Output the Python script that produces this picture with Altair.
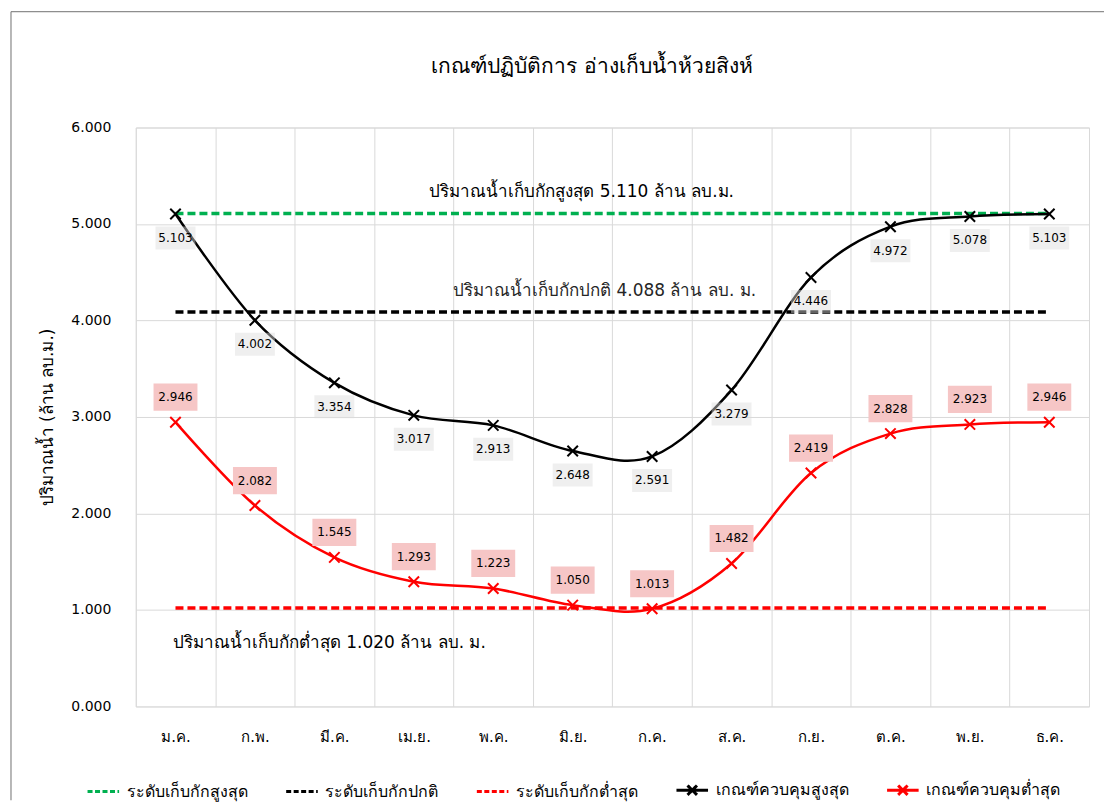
import altair as alt
import pandas as pd

months = ["ม.ค.", "ก.พ.", "มี.ค.", "เม.ย.", "พ.ค.", "มิ.ย.", "ก.ค.", "ส.ค.", "ก.ย.", "ต.ค.", "พ.ย.", "ธ.ค."]
upper_curve = [5.103, 4.002, 3.354, 3.017, 2.913, 2.648, 2.591, 3.279, 4.446, 4.972, 5.078, 5.103]
lower_curve = [2.946, 2.082, 1.545, 1.293, 1.223, 1.050, 1.013, 1.482, 2.419, 2.828, 2.923, 2.946]
level_names = ["ระดับเก็บกักสูงสุด", "ระดับเก็บกักปกติ", "ระดับเก็บกักต่ำสุด"]
level_values = [5.110, 4.088, 1.020]
level_colors = ["#00b050", "#000000", "#ff0000"]
curve_names = ["เกณฑ์ควบคุมสูงสุด", "เกณฑ์ควบคุมต่ำสุด"]
curve_colors = ["#000000", "#ff0000"]
y_ticks = [0, 1, 2, 3, 4, 5, 6]
chart_title = "เกณฑ์ปฏิบัติการ อ่างเก็บน้ำห้วยสิงห์"
note_texts = ["ปริมาณน้ำเก็บกักสูงสุด 5.110 ล้าน ลบ.ม.",
              "ปริมาณน้ำเก็บกักปกติ 4.088 ล้าน ลบ. ม.",
              "ปริมาณน้ำเก็บกักต่ำสุด 1.020 ล้าน ลบ. ม."]
note_months = ["มิ.ย.", "มิ.ย.", "มี.ค."]

FONT = "Tahoma, 'DejaVu Sans', 'Noto Sans', sans-serif"
W, H = 955, 580

xenc = alt.X("month:N", sort=months,
             scale=alt.Scale(type="band", domain=months, paddingInner=0, paddingOuter=0),
             axis=alt.Axis(title=None, labelAngle=0, labelFontSize=15, labelPadding=23,
                           tickBand="extent", grid=True, gridColor="#d9d9d9",
                           ticks=False, domain=False, labelColor="#000000", labelFont=FONT))
yenc_axis = alt.Axis(title="ปริมาณน้ำ (ล้าน ลบ.ม.)", titleFontSize=17, titleFontWeight="normal",
                     titleColor="#000000", titleFont=FONT, titlePadding=14,
                     labelFontSize=14, labelColor="#000000", labelFont=FONT, labelPadding=25,
                     format=".3f", values=y_ticks, grid=True, gridColor="#d9d9d9",
                     ticks=False, domain=False)
yscale = alt.Scale(domain=[0, 6], nice=False, zero=True)


def yenc(field="value"):
    return alt.Y(f"{field}:Q", scale=yscale, axis=yenc_axis)


layers = []

# reference levels (dashed)
for name, val, col in zip(level_names, level_values, level_colors):
    df = pd.DataFrame({"month": months, "value": [val] * len(months)})
    layers.append(alt.Chart(df).mark_line(color=col, strokeWidth=3.5, strokeDash=[8, 4])
                  .encode(x=xenc, y=yenc()))

# curves
curve_dfs = []
for name, vals, col in zip(curve_names, [upper_curve, lower_curve], curve_colors):
    df = pd.DataFrame({"month": months, "value": vals,
                       "label": [f"{v:.3f}" for v in vals]})
    curve_dfs.append(df)
    layers.append(alt.Chart(df).mark_line(color=col, strokeWidth=2.5, interpolate="cardinal")
                  .encode(x=xenc, y=yenc()))

X_PATH = "M-1,-1L1,1M-1,1L1,-1"
for df, col in zip(curve_dfs, curve_colors):
    layers.append(alt.Chart(df).mark_point(shape=X_PATH, color=col, filled=False, size=110,
                                           strokeWidth=2, opacity=1)
                  .encode(x=xenc, y=yenc()))

# label boxes + labels
BOX_UP = "M-1,-0.575L1,-0.575L1,0.575L-1,0.575Z"
BOX_LO = "M-1,-0.62L1,-0.62L1,0.62L-1,0.62Z"
layers.append(alt.Chart(curve_dfs[0]).mark_point(shape=BOX_UP, filled=True, size=1600,
                                                 color="#dcdcdc", opacity=0.45, yOffset=24, strokeWidth=0)
              .encode(x=xenc, y=yenc()))
layers.append(alt.Chart(curve_dfs[0]).mark_text(dy=24, fontSize=12, font=FONT, color="#000000")
              .encode(x=xenc, y=yenc(), text="label:N"))
layers.append(alt.Chart(curve_dfs[1]).mark_point(shape=BOX_LO, filled=True, size=1936,
                                                 color="#f6c6c6", opacity=1, yOffset=-25, strokeWidth=0)
              .encode(x=xenc, y=yenc()))
layers.append(alt.Chart(curve_dfs[1]).mark_text(dy=-25, fontSize=12, font=FONT, color="#000000")
              .encode(x=xenc, y=yenc(), text="label:N"))

# annotations
note_dx = [9, 32, -5]
note_dy = [-21, -21, 35]
note_col = ["#000000", "#262626", "#000000"]
for txt, m, v, dx, dy, c in zip(note_texts, note_months, level_values, note_dx, note_dy, note_col):
    df = pd.DataFrame({"month": [m], "value": [v], "t": [txt]})
    layers.append(alt.Chart(df).mark_text(dx=dx, dy=dy, fontSize=17, font=FONT, color=c)
                  .encode(x=xenc, y=yenc(), text="t:N"))

# legend (hidden dummy points carry the legend)
series_order = level_names + curve_names
series_colors = level_colors + curve_colors
LINE_PATH = "M-1,0L1,0"
LINEX_PATH = "M-1,0L1,0M-0.3,-0.3L0.3,0.3M-0.3,0.3L0.3,-0.3"
legend_df = pd.DataFrame({"series": series_order})
layers.append(alt.Chart(legend_df).mark_point(filled=False, strokeWidth=3, clip=True, opacity=1)
              .encode(x=alt.value(-3000), y=alt.value(-3000),
                      color=alt.Color("series:N",
                                      scale=alt.Scale(domain=series_order, range=series_colors),
                                      legend=alt.Legend(title=None, orient="none", direction="horizontal",
                                                        columns=5, legendX=-50, legendY=646,
                                                        labelFontSize=16, labelFont=FONT, labelColor="#000000",
                                                        symbolSize=1000, symbolStrokeWidth=3,
                                                        columnPadding=32, labelOffset=6, labelLimit=400)),
                      shape=alt.Shape("series:N",
                                      scale=alt.Scale(domain=series_order,
                                                      range=[LINE_PATH, LINE_PATH, LINE_PATH, LINEX_PATH, LINEX_PATH])),
                      strokeDash=alt.StrokeDash("series:N",
                                                scale=alt.Scale(domain=series_order,
                                                                range=[[5, 2.5], [5, 2.5], [5, 2.5], [1, 0], [1, 0]]))))

# chart title as a text mark above the plot (kept inside the outer frame)
title_df = pd.DataFrame({"t": [chart_title]})
layers.append(alt.Chart(title_df).mark_text(fontSize=21, font=FONT, color="#000000", baseline="middle")
              .encode(x=alt.value(457), y=alt.value(-61), text="t:N"))

# outer frame (left and top edges)
frame_df = pd.DataFrame({"k": [0]})
layers.append(alt.Chart(frame_df).mark_rule(color="#707070", strokeWidth=1)
              .encode(x=alt.value(-125), y=alt.value(-116), y2=alt.value(674)))
layers.append(alt.Chart(frame_df).mark_rule(color="#707070", strokeWidth=1)
              .encode(x=alt.value(-125), x2=alt.value(970), y=alt.value(-116)))

chart = alt.layer(*layers).properties(
    width=W, height=H,
    padding={"left": 2, "top": 2, "right": 0, "bottom": 0},
).configure_view(fill="#f3f3f3", stroke="#d9d9d9").configure(background="#ffffff")

chart.save("out.html", embed_options={"renderer": "svg", "actions": False})
